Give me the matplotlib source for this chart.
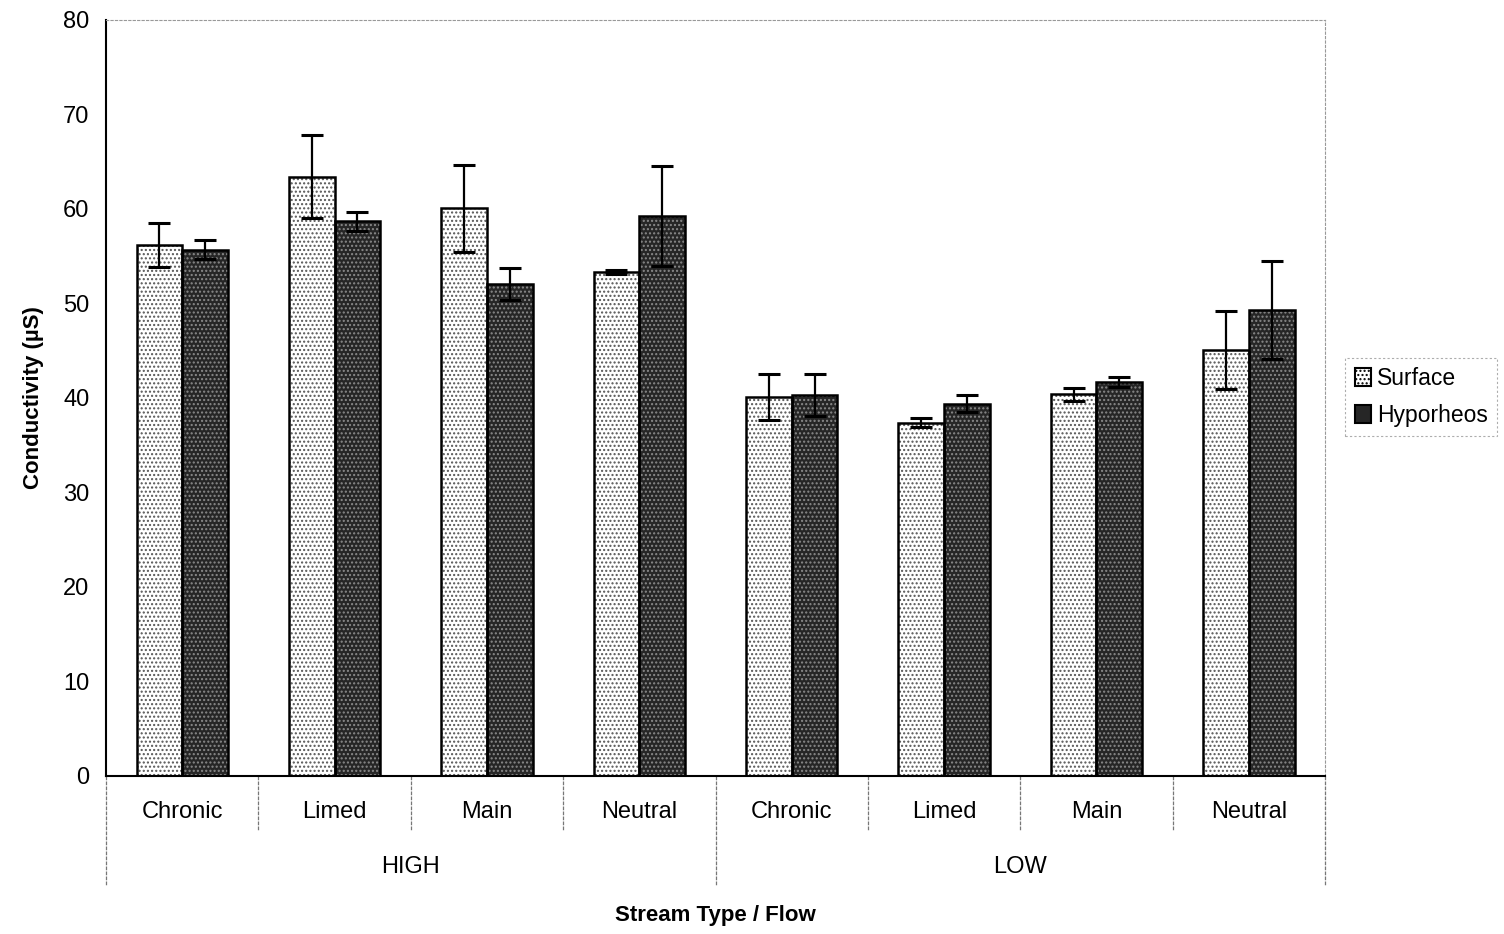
import matplotlib.pyplot as plt
import matplotlib.transforms as mtransforms
from matplotlib.patches import Patch
import numpy as np

plt.rcParams['font.family'] = ['Liberation Sans', 'DejaVu Sans']

streams = ["Chronic", "Limed", "Main", "Neutral", "Chronic", "Limed", "Main", "Neutral"]
flows = ["HIGH", "LOW"]

surface = [56.2, 63.4, 60.1, 53.3, 40.1, 37.4, 40.4, 45.1]
surface_err = [2.3, 4.4, 4.6, 0.2, 2.4, 0.5, 0.7, 4.1]
hyporheos = [55.7, 58.7, 52.1, 59.3, 40.3, 39.4, 41.7, 49.3]
hyporheos_err = [1.0, 1.0, 1.7, 5.3, 2.2, 0.9, 0.5, 5.2]

fig = plt.figure(figsize=(15.04, 9.34), dpi=100)
ax = fig.add_axes([0.0705, 0.1692, 0.8105, 0.8094])

x = np.arange(len(streams))
w = 0.3

# dotted fill first, then a plain black outline on top
ax.bar(x - w / 2, surface, w, color="white", edgecolor="#555555", hatch="....", linewidth=0, zorder=2)
ax.bar(x - w / 2, surface, w, color="none", edgecolor="black", linewidth=1.8, zorder=3)
ax.bar(x + w / 2, hyporheos, w, color="#262626", edgecolor="#8a8a8a", hatch="....", linewidth=0, zorder=2)
ax.bar(x + w / 2, hyporheos, w, color="none", edgecolor="black", linewidth=1.8, zorder=3)

ax.errorbar(x - w / 2, surface, yerr=surface_err, fmt="none", ecolor="black",
            elinewidth=1.6, capsize=8, capthick=2.2, zorder=4)
ax.errorbar(x + w / 2, hyporheos, yerr=hyporheos_err, fmt="none", ecolor="black",
            elinewidth=1.6, capsize=8, capthick=2.2, zorder=4)

ax.set_xlim(-0.5, len(streams) - 0.5)
ax.set_ylim(0, 80)
ax.set_yticks(range(0, 81, 10))
ax.tick_params(axis="y", length=0, pad=12, labelsize=17)
ax.set_xticks([])

for side in ["top", "right"]:
    ax.spines[side].set_color("#999999")
    ax.spines[side].set_linestyle((0, (2, 2)))
    ax.spines[side].set_linewidth(0.8)
ax.spines["left"].set_linewidth(1.5)
ax.spines["bottom"].set_linewidth(1.5)

# two-level category axis below the plot
trans = mtransforms.blended_transform_factory(ax.transData, ax.transAxes)
for i, name in enumerate(streams):
    ax.text(i, -0.048, name, transform=trans, ha="center", va="center", fontsize=17)
for b in range(1, len(streams)):
    if b % 4 == 0:
        continue
    ax.plot([b - 0.5, b - 0.5], [0, -0.072], transform=trans, color="#777777",
            linewidth=0.9, linestyle=(0, (3, 1)), clip_on=False)
for b in [-0.5, 3.5, 7.5]:
    ax.plot([b, b], [0, -0.145], transform=trans, color="#777777",
            linewidth=0.9, linestyle=(0, (3, 1)), clip_on=False)
for g, name in enumerate(flows):
    ax.text(g * 4 + 1.5, -0.121, name, transform=trans, ha="center", va="center", fontsize=17)

ax.text(0.5, -0.184, "Stream Type / Flow", transform=ax.transAxes, ha="center",
        va="center", fontsize=16, fontweight="bold")
ax.set_ylabel("Conductivity (µS)", fontsize=16, fontweight="bold", labelpad=14)

handles = [Patch(facecolor="white", edgecolor="black", hatch="....", linewidth=1.5),
           Patch(facecolor="#262626", edgecolor="black", linewidth=1.5)]
leg = fig.legend(handles, ["Surface", "Hyporheos"], loc="center left",
                 bbox_to_anchor=(0.893, 0.575), fontsize=16.5, frameon=True,
                 fancybox=False, handlelength=0.7, handleheight=0.8,
                 handletextpad=0.3, borderpad=0.4, borderaxespad=0.1,
                 labelspacing=0.6)
leg.get_frame().set_edgecolor("#999999")
leg.get_frame().set_linestyle((0, (2, 2)))
leg.get_frame().set_linewidth(0.8)

fig.savefig("out.png", dpi=100)
